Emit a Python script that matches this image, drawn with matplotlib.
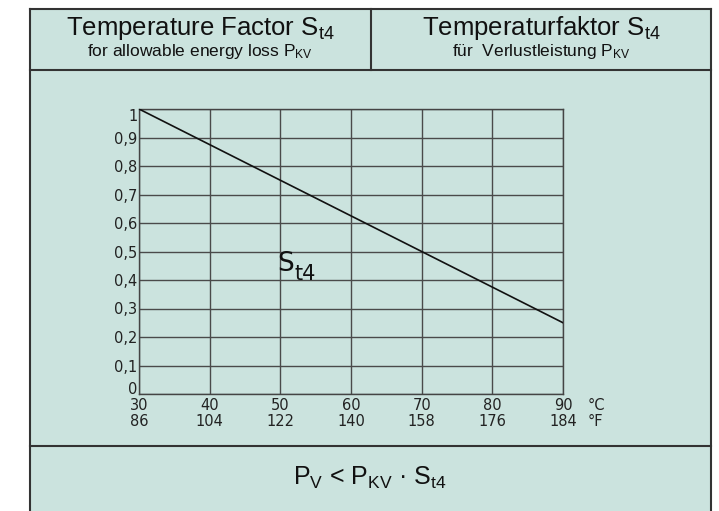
import matplotlib
matplotlib.use("Agg")
import matplotlib.pyplot as plt
from matplotlib.lines import Line2D
from matplotlib.patches import Rectangle
from matplotlib import font_manager

# ---- data ----
temp_c = [30, 90]
factor = [1.0, 0.25]
xticks_c = [30, 40, 50, 60, 70, 80, 90]
xticks_f = [86, 104, 122, 140, 158, 176, 184]
yticks = [0, 0.1, 0.2, 0.3, 0.4, 0.5, 0.6, 0.7, 0.8, 0.9, 1.0]
ytick_labels = ["0", "0,1", "0,2", "0,3", "0,4", "0,5", "0,6", "0,7", "0,8", "0,9", "1"]

W, H = 719, 511
BG = "#cbe3de"
EDGE = "#333333"
TICKFS = 10.5

names = {f.name for f in font_manager.fontManager.ttflist}
if "Liberation Sans Narrow" in names:
    NARROW_NAME = "Liberation Sans Narrow"
elif "DejaVu Sans Condensed" in names:
    NARROW_NAME = "DejaVu Sans Condensed"
else:
    NARROW_NAME = "Liberation Sans"
NARROW = [NARROW_NAME, "DejaVu Sans"]

plt.rcParams["mathtext.fontset"] = "custom"
plt.rcParams["mathtext.rm"] = NARROW_NAME
plt.rcParams["mathtext.it"] = NARROW_NAME

fig = plt.figure(figsize=(W / 100, H / 100), dpi=100)
fig.patch.set_facecolor("white")

def fx(x):
    return x / W

def fy(y):
    return 1 - y / H

# outer panel
left, right, top, bottom = 30, 711, 9, 511
fig.patches.append(Rectangle((fx(left), fy(bottom)), fx(right) - fx(left), fy(top) - fy(bottom),
                             transform=fig.transFigure, facecolor=BG, edgecolor="none", zorder=-10))
for (x0, y0, x1, y1) in [(left, top, right, top), (left, top, left, bottom), (right, top, right, bottom),
                         (left, 70, right, 70), (371, top, 371, 70), (left, 446, right, 446)]:
    fig.lines.append(Line2D([fx(x0), fx(x1)], [fy(y0), fy(y1)], transform=fig.transFigure,
                            color=EDGE, lw=1.5, zorder=1))

big = 18.5
small = 12.5
# header texts
fig.text(fx(200), fy(28), r"Temperature Factor S$_{\mathregular{t4}}$", ha="center", va="center",
         fontsize=big, family=NARROW, color="#111111")
fig.text(fx(200), fy(51), r"for allowable energy loss P$_{\mathregular{KV}}$", ha="center", va="center",
         fontsize=small, family=NARROW, color="#111111")
fig.text(fx(541), fy(28), r"Temperaturfaktor S$_{\mathregular{t4}}$", ha="center", va="center",
         fontsize=big, family=NARROW, color="#111111")
fig.text(fx(541), fy(51), r"für  Verlustleistung P$_{\mathregular{KV}}$", ha="center", va="center",
         fontsize=small, family=NARROW, color="#111111")
fig.text(fx(370), fy(478), r"P$_{\mathregular{V}}$ < P$_{\mathregular{KV}}$ · S$_{\mathregular{t4}}$",
         ha="center", va="center", fontsize=18, family=NARROW, color="#111111")

# chart
ax = fig.add_axes([fx(139), fy(394), fx(563) - fx(139), fy(109) - fy(394)])
ax.set_facecolor(BG)
ax.set_xlim(30, 90)
ax.set_ylim(0, 1)
ax.set_xticks(xticks_c)
ax.set_xticklabels([f"{c}\n{f}" for c, f in zip(xticks_c, xticks_f)], fontsize=TICKFS,
                   linespacing=1.05, color="#222222")
ax.set_yticks(yticks)
ylabs = ax.set_yticklabels(ytick_labels, fontsize=TICKFS, color="#222222")
ylabs[0].set_va("baseline")
ylabs[-1].set_va("top")
ax.tick_params(length=0, pad=3)
ax.tick_params(axis="y", pad=1)
ax.grid(True, color="#4a4a4a", lw=1.0)
for s in ax.spines.values():
    s.set_color("#444444")
    s.set_linewidth(1.0)
ax.plot(temp_c, factor, color="#111111", lw=1.2, zorder=3)
ax.text(49.5, 0.455, "S", fontsize=19, ha="left", va="center", color="#111111")
ax.text(52.0, 0.42, "t4", fontsize=15, ha="left", va="center", color="#111111")
ax.annotate("°C\n°F", xy=(1, 0), xycoords="axes fraction", xytext=(18, -3),
            textcoords="offset points", ha="left", va="top", fontsize=TICKFS,
            linespacing=1.05, color="#222222")

fig.savefig("out.png", dpi=100, facecolor="white")
